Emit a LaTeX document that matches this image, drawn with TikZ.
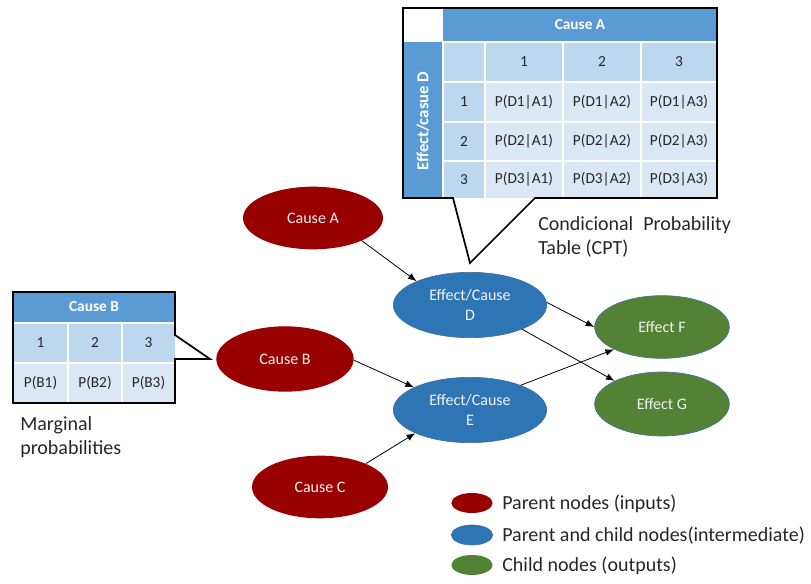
\documentclass[tikz,border=0pt]{standalone}
\usepackage{fontspec}
\setmainfont{Carlito}
\usepackage{xcolor}
\usetikzlibrary{shapes.geometric,arrows.meta}
\definecolor{causered}{HTML}{990000}
\definecolor{midblue}{HTML}{2E75B6}
\definecolor{effgreen}{HTML}{548235}
\definecolor{edgeblue}{HTML}{41719C}
\definecolor{hdblue}{HTML}{5B9BD5}
\definecolor{cellmid}{HTML}{BDD7EE}
\definecolor{celllight}{HTML}{DAE7F4}

\begin{document}
\begin{tikzpicture}[x=0.75pt,y=-0.75pt,>={Latex[length=6.5pt,width=5pt]}]
\tikzset{
  bnode/.style={ellipse,inner sep=0pt,text=white!95!black,align=center,font=\fontsize{12}{15}\selectfont},
  parent/.style={bnode,fill=causered},
  inter/.style={bnode,fill=midblue,draw=edgeblue,line width=0.5pt},
  child/.style={bnode,fill=effgreen,draw=edgeblue,line width=0.5pt},
  celltext/.style={text=black!85,font=\fontsize{11.5}{13}\selectfont},
  hdtext/.style={text=white,font=\bfseries\fontsize{11.5}{13}\selectfont},
  label/.style={anchor=west,inner sep=0pt,align=left,text=black!85,font=\fontsize{15}{18}\selectfont},
  grid/.style={white,line width=1.2pt},
  callout/.style={line width=1.3pt,line join=miter},
  link/.style={->,line width=0.6pt}
}
\useasboundingbox (0,0) rectangle (811,584);

% CPT table
\fill[hdblue](443,8)rectangle(717,42);
\fill[hdblue](403,42)rectangle(443,198);
\fill[cellmid](443,42)rectangle(717,82);
\fill[cellmid](443,82)rectangle(485,198);
\fill[celllight](485,82)rectangle(717,198);
\draw[grid](443,42)--(717,42);
\foreach \y in {82,122,161} \draw[grid](443,\y)--(717,\y);
\foreach \x in {443,485,563,641} \draw[grid](\x,42)--(\x,198);
\node[hdtext] (cptA) at (580,25) {Cause A};
\node[hdtext,rotate=90,font=\bfseries\fontsize{12.5}{14}\selectfont] (cptD) at (423,121) {Effect/casue D};
\foreach \c/\x in {1/524,2/602,3/679} \node[celltext] (colhd\c) at (\x,62) {\c};
\foreach \r/\y in {1/102,2/141.5,3/179.5}{
  \node[celltext] (rowhd\r) at (464,\y) {\r};
  \foreach \c/\x in {1/524,2/602,3/679} \node[celltext] (p\r\c) at (\x,\y) {P(D\r|A\c)};
}
\draw[callout](453,198)--(403,198)--(403,8)--(717,8)--(717,198)--(535,198)--(470,263)--cycle;

% marginal table
\fill[hdblue](13,292)rectangle(175,323);
\fill[cellmid](13,323)rectangle(175,363);
\fill[celllight](13,363)rectangle(175,403);
\foreach \y in {323,363} \draw[grid](13,\y)--(175,\y);
\foreach \x in {68,122} \draw[grid](\x,323)--(\x,403);
\node[hdtext] (margB) at (94,307) {Cause B};
\foreach \c/\x in {1/40.5,2/95,3/148.5}{
  \node[celltext] (bhd\c) at (\x,343) {\c};
  \node[celltext] (pb\c) at (\x,383) {P(B\c)};
}
\draw[callout](175,335)--(175,292)--(13,292)--(13,403)--(175,403)--(175,359)--(210,359)--cycle;

\node[label] (cptlbl) at (538,237) {Condicional\enspace Probability\\Table (CPT)};
\node[label] (marglbl) at (20,437) {Marginal\\probabilities};

% network
\node[parent,minimum width=105pt,minimum height=47pt] (A) at (313,218) {Cause A};
\node[parent,minimum width=103pt,minimum height=49pt] (B) at (285,359) {Cause B};
\node[parent,minimum width=102pt,minimum height=47pt] (C) at (320,487) {Cause C};
\node[inter,minimum width=115pt,minimum height=49pt] (D) at (470,305) {Effect/Cause\\D};
\node[inter,minimum width=115pt,minimum height=49pt] (E) at (470,410) {Effect/Cause\\E};
\node[child,minimum width=101pt,minimum height=47pt] (F) at (662,327) {Effect F};
\node[child,minimum width=101pt,minimum height=48pt] (G) at (662,404) {Effect G};

\draw[link](A.-25)--(D.156);
\draw[link](B.-1)--(E.158);
\draw[link](C.27)--(E.203);
\draw[link](D.2)--(F.180);
\draw[link](D.-25)--(G.154);
\draw[link](E.26)--(F.205);

% legend
\node[parent,minimum width=31pt,minimum height=15pt] (legP) at (472,503) {};
\node[inter,minimum width=31pt,minimum height=15pt] (legI) at (472,535) {};
\node[child,minimum width=31pt,minimum height=15pt,draw=none] (legC) at (472,565) {};
\node[label] (legPt) at (502,504) {Parent nodes (inputs)};
\node[label] (legIt) at (502,536) {Parent and child nodes(intermediate)};
\node[label] (legCt) at (502,566) {Child nodes (outputs)};
\end{tikzpicture}
\end{document}
